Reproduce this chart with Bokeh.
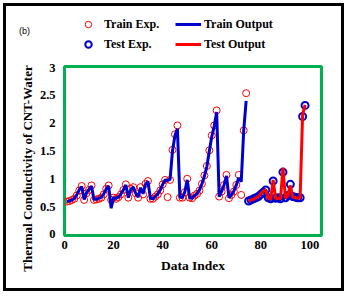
import numpy as np
from bokeh.plotting import figure
from bokeh.layouts import column, row
from bokeh.models import FixedTicker, Legend, LegendItem, Range1d, Label
from bokeh.embed import file_html
from bokeh.resources import INLINE

# ---------------- data ----------------
train_index = list(range(1, 75))
train_exp = [0.59, 0.60, 0.62, 0.64, 0.70, 0.79, 0.87, 0.62, 0.74, 0.80,
             0.88, 0.62, 0.63, 0.64, 0.66, 0.72, 0.82, 0.88, 0.62, 0.66,
             0.64, 0.67, 0.72, 0.80, 0.90, 0.66, 0.82, 0.85, 0.74, 0.66,
             0.85, 0.72, 0.91, 0.96, 0.64, 0.64, 0.68, 0.72, 0.79, 0.90,
             0.98, 0.67, 0.98, 1.52, 1.80, 1.96, 0.66, 0.66, 0.76, 1.00,
             0.66, 0.65, 0.70, 0.73, 0.79, 0.91, 1.06, 1.23, 1.51, 1.78,
             1.96, 2.23, 0.68, 0.77, 0.89, 1.07, 0.65, 0.71, 0.77, 0.89,
             1.07, 0.71, 1.87, 2.54]
train_output = [0.59, 0.60, 0.62, 0.65, 0.71, 0.80, 0.86, 0.63, 0.75, 0.81,
                0.87, 0.63, 0.63, 0.65, 0.67, 0.73, 0.82, 0.87, 0.47, 0.66,
                0.65, 0.67, 0.73, 0.80, 0.89, 0.66, 0.81, 0.85, 0.74, 0.67,
                0.84, 0.73, 0.90, 0.95, 0.65, 0.64, 0.68, 0.73, 0.80, 0.90,
                0.98, 0.97, 0.99, 1.50, 1.78, 1.90, 0.67, 0.66, 0.76, 0.98,
                0.66, 0.65, 0.70, 0.73, 0.80, 0.91, 1.05, 1.22, 1.50, 1.76,
                1.95, 2.20, 0.68, 0.77, 0.89, 1.05, 0.66, 0.71, 0.78, 0.89,
                1.02, 0.95, 1.86, 2.40]
test_index = list(range(75, 99))
test_exp = [0.60, 0.62, 0.64, 0.66, 0.68, 0.72, 0.76, 0.80, 0.66, 0.64,
            0.96, 0.65, 0.66, 0.64, 1.12, 0.66, 0.70, 0.90, 0.68, 0.67,
            0.66, 0.66, 2.12, 2.32]
test_output = [0.60, 0.62, 0.63, 0.66, 0.68, 0.73, 0.78, 0.80, 0.65, 0.63,
               0.98, 0.64, 0.65, 0.64, 1.20, 0.65, 0.70, 0.88, 0.67, 0.66,
               0.65, 0.66, 2.15, 2.33]
x_ticks = [0, 20, 40, 60, 80, 100]
x_tick_labels = ["0", "20", "40", "60", "80", "100"]
y_ticks = [0, 0.5, 1, 1.5, 2, 2.5, 3]
y_tick_labels = ["0", "0.5", "1", "1.5", "2", "2.5", "3"]
panel_tag = "(b)"
y_title = "Thermal Conductivity of CNT-Water"
x_title = "Data Index"

SERIF = "Liberation Serif"
RED = "#FF0000"
BLUE = "#0000CC"
train_exp_style = dict(marker="circle", size=7, fill_color=None, line_color=RED, line_width=1)
test_exp_style = dict(marker="circle", size=7, fill_color=None, line_color=BLUE, line_width=2)
train_out_style = dict(line_color=BLUE, line_width=3)
test_out_style = dict(line_color=RED, line_width=3)

# ---------------- main plot ----------------
p = figure(width=305, height=232, output_backend="svg", toolbar_location=None,
           x_range=Range1d(0, 104.7), y_range=Range1d(-0.02, 3.02),
           min_border_left=28, min_border_right=20,
           min_border_top=10, min_border_bottom=53)
p.title.visible = False
p.background_fill_color = "white"
p.border_fill_color = "white"
p.outline_line_color = "#00B050"
p.outline_line_width = 3
p.xgrid.visible = False
p.ygrid.visible = False

for ax, ticks, labels in ((p.xaxis, x_ticks, x_tick_labels), (p.yaxis, y_ticks, y_tick_labels)):
    ax.ticker = FixedTicker(ticks=ticks)
    ax.major_label_overrides = {t: l for t, l in zip(ticks, labels)}
    ax.axis_line_color = None
    ax.major_tick_line_color = None
    ax.minor_tick_line_color = None
    ax.major_tick_out = 0
    ax.major_tick_in = 0
    ax.major_label_text_font = SERIF
    ax.major_label_text_font_style = "bold"
    ax.major_label_text_font_size = "12.5px"
    ax.major_label_text_color = "black"
p.xaxis.major_label_standoff = 5
p.yaxis.major_label_standoff = 9

p.xaxis.axis_label = x_title
p.xaxis.axis_label_text_font = SERIF
p.xaxis.axis_label_text_font_style = "bold"
p.xaxis.axis_label_text_color = "black"
p.xaxis.axis_label_text_font_size = "13.5px"
p.xaxis.axis_label_standoff = 6

p.scatter(train_index, train_exp, **train_exp_style)
p.line(train_index, train_output, **train_out_style)
p.scatter(test_index, test_exp, **test_exp_style)
p.line(test_index, test_output, **test_out_style)

# ---------------- legend strip above the plot ----------------
# the series are re-plotted here outside the visible x range, only to key the legend
top = figure(width=305, height=50, output_backend="svg", toolbar_location=None,
             x_range=Range1d(-10, -5), y_range=Range1d(0, 1),
             x_axis_type=None, y_axis_type=None, min_border=0,
             min_border_left=28, min_border_right=20)
top.title.visible = False
top.outline_line_color = None
top.background_fill_color = "white"
top.border_fill_color = "white"

k1 = top.scatter(train_index, train_exp, **train_exp_style)
k2 = top.scatter(test_index, test_exp, **test_exp_style)
k3 = top.line(train_index, train_output, **train_out_style)
k4 = top.line(test_index, test_output, **test_out_style)

legend = Legend(items=[LegendItem(label="Train Exp.", renderers=[k1]),
                       LegendItem(label="Test Exp.", renderers=[k2]),
                       LegendItem(label="Train Output", renderers=[k3]),
                       LegendItem(label="Test Output", renderers=[k4])],
                ncols=2, location=(11, 4), padding=0, margin=0, spacing=4,
                glyph_width=26, glyph_height=16, label_height=16, label_width=67,
                label_standoff=3, border_line_color=None, background_fill_alpha=0,
                label_text_font=SERIF, label_text_font_style="bold",
                label_text_font_size="12px", label_text_color="black")
top.add_layout(legend, "center")

# ---------------- left strip holding the panel tag and the y title ----------------
strip = figure(width=30, height=282, output_backend="svg", toolbar_location=None,
               x_range=Range1d(0, 1), y_range=Range1d(0, 1),
               x_axis_type=None, y_axis_type=None, min_border=0)
strip.title.visible = False
strip.outline_line_color = None
strip.background_fill_color = "white"
strip.border_fill_color = "white"
strip.xgrid.visible = False
strip.ygrid.visible = False
strip.add_layout(Label(x=18, y=258, x_units="screen", y_units="screen", text=panel_tag,
                       text_align="center", text_baseline="middle",
                       text_font="Liberation Sans", text_font_size="9px",
                       text_color="black"))
strip.add_layout(Label(x=21, y=120, x_units="screen", y_units="screen", text=y_title,
                       angle=np.pi / 2, text_align="center", text_baseline="middle",
                       text_font=SERIF, text_font_style="bold", text_font_size="13px",
                       text_color="black"))

page = row(strip, column(top, p, spacing=0), spacing=0,
           styles={"border": "3px solid black", "margin-left": "3px", "margin-top": "3px"})

open("out.html", "w").write(file_html(page, INLINE))
